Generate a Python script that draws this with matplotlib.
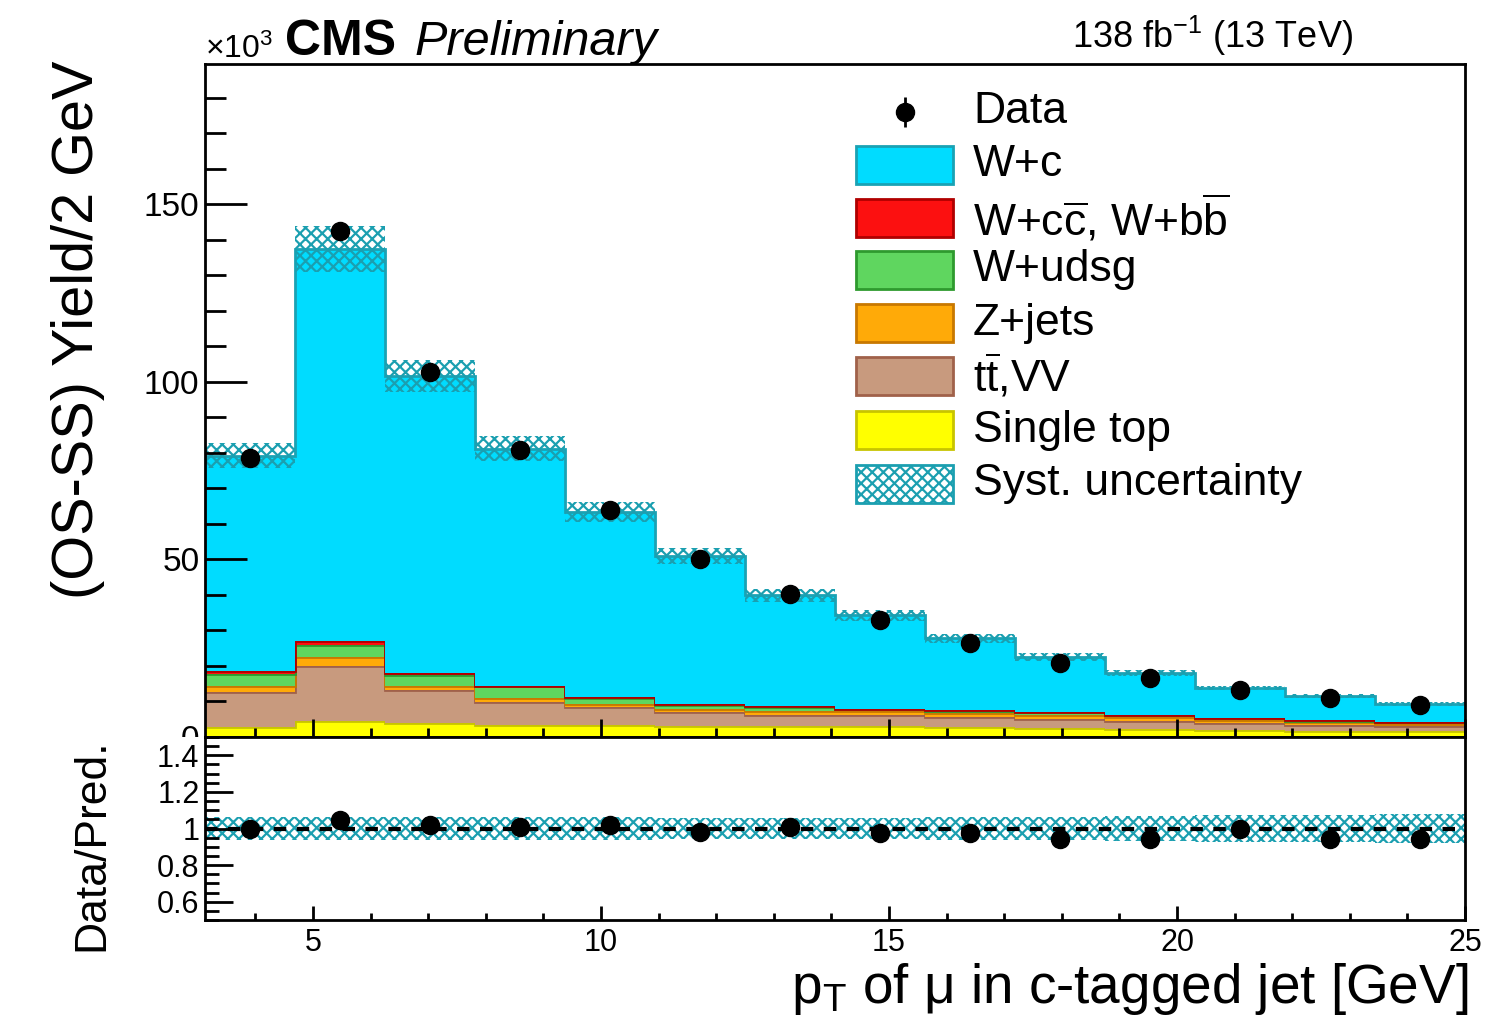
import numpy as np
import matplotlib
matplotlib.use("Agg")
import matplotlib.pyplot as plt
from matplotlib.patches import Rectangle
from matplotlib.transforms import Bbox, TransformedBbox

plt.rcParams['font.family'] = ['Liberation Sans', 'DejaVu Sans']
plt.rcParams['mathtext.fontset'] = 'custom'
plt.rcParams['mathtext.rm'] = 'Liberation Sans'
plt.rcParams['mathtext.it'] = 'Liberation Sans:italic'
plt.rcParams['mathtext.default'] = 'regular'
plt.rcParams['hatch.linewidth'] = 1.6

# binning: 14 bins in pT of the muon (GeV)
edges = np.linspace(3.125, 25.0, 15)

# yields in units of 10^3
single_top = [2.8, 4.5, 4.0, 3.5, 3.3, 3.1, 3.0, 3.0, 2.7, 2.5, 2.2, 2.0, 1.8, 1.6]
ttbar_vv   = [10.0, 15.6, 9.3, 6.3, 5.1, 4.0, 3.3, 3.2, 2.8, 2.6, 2.2, 1.9, 1.7, 1.5]
z_jets     = [1.7, 2.3, 1.1, 1.3, 1.0, 0.9, 0.9, 1.0, 1.2, 1.2, 1.1, 1.0, 0.7, 0.7]
w_udsg     = [3.2, 3.5, 3.1, 3.2, 1.6, 1.0, 1.2, 0.7, 0.7, 0.6, 0.6, 0.4, 0.4, 0.4]
w_ccbb     = [0.8, 1.1, 0.5, 0.1, 0.4, 0.3, 0.2, 0.1, 0.1, 0.1, 0.1, 0.1, 0.05, 0.05]
w_c        = [60.7, 110.4, 83.7, 66.8, 51.9, 41.7, 31.3, 26.3, 20.3, 15.5, 11.8, 8.4, 6.85, 5.05]
syst_rel   = [0.044, 0.047, 0.044, 0.044, 0.044, 0.044, 0.044, 0.045, 0.045, 0.045, 0.046, 0.046, 0.046, 0.047]

data       = [78.7, 142.4, 102.8, 80.9, 64.0, 50.0, 40.2, 32.9, 26.4, 20.8, 16.6, 13.2, 11.0, 9.0]
data_err   = [0.5, 0.8, 0.6, 0.5, 0.5, 0.4, 0.4, 0.4, 0.3, 0.3, 0.3, 0.3, 0.3, 0.3]

ratio      = [1.00, 1.044, 1.017, 1.006, 1.017, 0.983, 1.006, 0.978, 0.978, 0.94, 0.94, 0.995, 0.94, 0.94]
ratio_err  = [0.006, 0.006, 0.006, 0.007, 0.008, 0.008, 0.01, 0.01, 0.012, 0.013, 0.015, 0.017, 0.02, 0.022]
ratio_unc  = [0.063, 0.063, 0.063, 0.063, 0.063, 0.060, 0.060, 0.060, 0.063, 0.063, 0.066, 0.072, 0.075, 0.078]

samples = [
    ("Single top", single_top, "#ffff00", "#c8c400"),
    ("t$\\overline{t}$,VV", ttbar_vv, "#c89a7e", "#a0614a"),
    ("Z+jets", z_jets, "#ffaa08", "#c87800"),
    ("W+udsg", w_udsg, "#5fd65f", "#2e9a2e"),
    ("W+c$\\overline{c}$, W+b$\\overline{b}$", w_ccbb, "#fc1010", "#b00000"),
    ("W+c", w_c, "#00dcff", "#1aa2b4"),
]
hatch_col = "#1b9fb0"
hatch_pat = "xxx"

W, H = 1486, 1027
fig = plt.figure(figsize=(W / 100, H / 100), dpi=100)
ax = fig.add_axes([205 / W, 1 - 737 / H, 1260 / W, 673 / H])
axr = fig.add_axes([205 / W, 1 - 920 / H, 1260 / W, 183 / H])

centers = 0.5 * (edges[1:] + edges[:-1])

# stacked histograms
bottom = np.zeros(len(centers))
for name, vals, fc, ec in samples:
    top = bottom + np.array(vals)
    ax.stairs(top, edges, baseline=bottom, fill=True, facecolor=fc, lw=0)
    ax.stairs(top, edges, baseline=None, color=ec, lw=2)
    bottom = top
total = bottom

# systematic band
rel = np.array(syst_rel)
ax.stairs(total * (1 + rel), edges, baseline=total * (1 - rel), fill=True,
          facecolor="none", edgecolor=hatch_col, hatch=hatch_pat, lw=0)

ax.errorbar(centers, data, yerr=data_err, fmt="o", color="black", ms=13, elinewidth=2, capsize=0, zorder=5)

ax.set_xlim(edges[0], edges[-1])
ax.set_ylim(0, 189.5)
ax.set_yticks([0, 50, 100, 150])
ax.set_yticks(np.arange(0, 190, 10), minor=True)
ax.set_xticks([5, 10, 15, 20, 25])
ax.set_xticks(np.arange(4, 26, 1), minor=True)
ax.tick_params(axis="y", which="major", direction="in", length=30, width=2, labelsize=24, pad=4)
ax.tick_params(axis="y", which="minor", direction="in", length=15, width=2)
ax.tick_params(axis="x", which="major", direction="in", length=13, width=2, labelbottom=False)
ax.tick_params(axis="x", which="minor", direction="in", length=6.5, width=2)
for s in ax.spines.values():
    s.set_linewidth(2)
# the "0" label is cut by the ratio pad, as in the original
clip = TransformedBbox(Bbox([[0, 1 - 737 / H], [205 / W, 1]]), fig.transFigure)
for t in ax.get_yticklabels():
    t.set_clip_box(clip)
    t.set_clip_on(True)

# manual legend
leg_rows = [0.9287, 0.85, 0.771, 0.694, 0.615, 0.536, 0.456, 0.376]
bx, bw, bh, tx = 0.5167, 0.077, 0.0565, 0.6095
ax.errorbar([bx + bw / 2], [leg_rows[0]], yerr=[0.023], fmt="o", color="black", ms=13,
            elinewidth=2, capsize=0, transform=ax.transAxes, clip_on=False, zorder=6)
ax.text(tx, leg_rows[0], "Data", transform=ax.transAxes, fontsize=32, va="center")
for row, (name, vals, fc, ec) in zip(leg_rows[1:7], samples[::-1]):
    ax.add_patch(Rectangle((bx, row - bh / 2), bw, bh, transform=ax.transAxes,
                           facecolor=fc, edgecolor=ec, lw=2, zorder=6))
    ax.text(tx, row, name, transform=ax.transAxes, fontsize=32, va="center")
ax.add_patch(Rectangle((bx, leg_rows[7] - bh / 2), bw, bh, transform=ax.transAxes,
                       facecolor="white", edgecolor=hatch_col, hatch=hatch_pat, lw=2, zorder=6))
ax.text(tx, leg_rows[7], "Syst. uncertainty", transform=ax.transAxes, fontsize=32, va="center")

# ratio panel
runc = np.array(ratio_unc)
axr.stairs(1 + runc, edges, baseline=1 - runc, fill=True, facecolor="none",
           edgecolor=hatch_col, hatch=hatch_pat, lw=0)
axr.axhline(1.0, color="black", ls=(0, (3, 2.5)), lw=3)
axr.errorbar(centers, ratio, yerr=ratio_err, fmt="o", color="black", ms=13, elinewidth=2, capsize=0, zorder=5)
axr.set_xlim(edges[0], edges[-1])
axr.set_ylim(0.5, 1.5)
axr.set_yticks([0.6, 0.8, 1.0, 1.2, 1.4])
axr.set_yticklabels(["0.6", "0.8", "1", "1.2", "1.4"])
axr.set_yticks(np.arange(0.5, 1.51, 0.05), minor=True)
axr.set_xticks([5, 10, 15, 20, 25])
axr.set_xticks(np.arange(4, 26, 1), minor=True)
axr.tick_params(axis="y", which="major", direction="in", length=20, width=2, labelsize=22, pad=4)
axr.tick_params(axis="y", which="minor", direction="in", length=10, width=2)
axr.tick_params(axis="x", which="major", direction="in", length=10, width=2, labelsize=22, pad=6)
axr.tick_params(axis="x", which="minor", direction="in", length=5, width=2)
for s in axr.spines.values():
    s.set_linewidth(2)

# texts
fig.text(78 / W, 1 - 330 / H, "(OS-SS) Yield/2 GeV", rotation=90, fontsize=41.5, ha="center", va="center")
fig.text(92 / W, 1 - 845 / H, "Data/Pred.", rotation=90, fontsize=32, ha="center", va="center")
fig.text(1468 / W, 1 - 1003 / H, "p$_{T}$ of \u03bc in c-tagged jet [GeV]", fontsize=39.5, ha="right", va="baseline")
fig.text(205 / W, 1 - 58 / H, "$\\times$10$^{3}$", fontsize=23, va="baseline")
fig.text(285 / W, 1 - 55 / H, "CMS", fontsize=36, fontweight="bold", va="baseline")
fig.text(415 / W, 1 - 55 / H, "Preliminary", fontsize=35, style="italic", va="baseline")
fig.text(1353 / W, 1 - 48 / H, "138 fb$^{-1}$ (13 TeV)", fontsize=26, ha="right", va="baseline")

fig.savefig("out.png", dpi=100)
